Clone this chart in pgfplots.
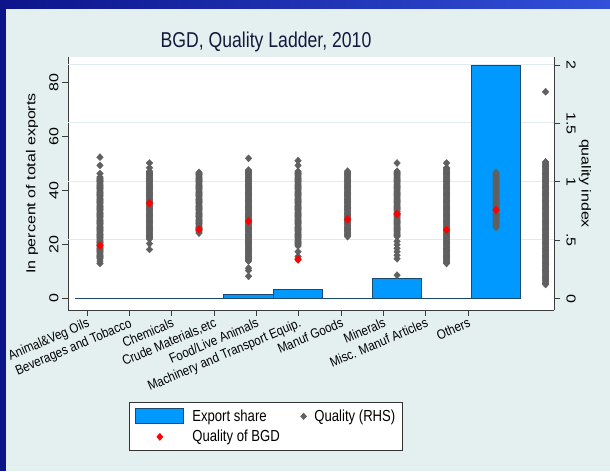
\documentclass[border=0pt]{standalone}
\usepackage{fontspec}
\setmainfont{Liberation Sans}
\newfontfamily\hfont[FakeStretch=0.82]{Liberation Sans}
\newfontfamily\vfont[FakeStretch=1.23]{Liberation Sans}
\newfontfamily\xfont[FakeStretch=0.86]{Liberation Sans}
\usepackage{graphicx}
\usepackage{pgfplots}
\pgfplotsset{compat=1.18}
\definecolor{panel}{RGB}{228,240,240}
\definecolor{navyL}{RGB}{12,20,138}
\definecolor{navyR}{RGB}{50,80,218}
\definecolor{barfill}{RGB}{0,153,255}
\definecolor{baredge}{RGB}{28,72,110}
\definecolor{qgray}{RGB}{96,96,96}
\definecolor{gridc}{RGB}{222,236,240}
\definecolor{axc}{RGB}{60,60,60}
\definecolor{titlec}{RGB}{20,25,60}
\pgfplotsset{qstyle/.style={only marks, mark=diamond*, qgray, mark size=3.5pt, mark options={xscale=1.25, draw=qgray, fill=qgray}}}
\newcommand{\up}[1]{\rotatebox{90}{#1}}
\newcommand{\dn}[1]{\rotatebox{-90}{#1}}
\begin{document}
\begin{tikzpicture}[x=1pt,y=1pt]
\useasboundingbox (0,0) rectangle (610,471);
\fill[panel] (0,0) rectangle (610,471);
\shade[left color=navyL,right color=navyR] (0,462) rectangle (610,471);
\fill[navyL] (0,0) rectangle (5.5,471);
\node[font=\hfont\fontsize{21.5}{22}\selectfont, text=titlec, anchor=base] at (266,423) {BGD, Quality Ladder, 2010};

% left axis: export shares
\begin{axis}[
  at={(68pt,161pt)}, anchor=south west, scale only axis,
  width=486pt, height=253pt,
  xmin=-0.646, xmax=9.17, ymin=-4.28, ymax=89.6,
  axis x line*=bottom, axis y line*=left,
  axis line style={-, axc, line width=0.9pt},
  axis background/.style={fill=white},
  tick align=outside, major tick length=6pt,
  tick style={axc, line width=0.8pt},
  xtick={-0.263,0.592,1.447,2.303,3.158,4.013,4.868,5.724,6.579,7.434},
  xticklabels={Animal\&Veg Oils, Beverages and Tobacco, Chemicals, {Crude Materials,etc}, Food/Live Animals, Machinery and Transport Equip., Manuf Goods, Minerals, Misc. Manuf Articles, Others},
  xticklabel style={rotate=23, anchor=north east, inner sep=1pt, font=\xfont\fontsize{13.5}{14}\selectfont},
  ytick={0,20,40,60,80},
  yticklabels={\up{0},\up{20},\up{40},\up{60},\up{80}},
  yticklabel style={font=\vfont\fontsize{13}{13}\selectfont},
  extra y ticks={21.72,43.44,65.16,86.88},
  extra y tick labels={},
  extra y tick style={grid=major, major tick length=0pt},
  grid style={gridc, line width=1pt},
  ylabel={In percent of total exports},
  ylabel style={at={(axis description cs:-0.0741,0.5)}, anchor=center, rotate=0, font=\vfont\fontsize{13}{13}\selectfont},
]
\addplot[ybar, bar width=1, bar shift=0pt, fill=barfill, draw=baredge, line width=0.9pt]
  coordinates {(0,0) (1,0) (2,0) (3,1.6) (4,3.4) (5,0) (6,7.5) (7,0) (8,86.4)};
\end{axis}

% right axis: quality
\begin{axis}[
  at={(68pt,161pt)}, anchor=south west, scale only axis,
  width=486pt, height=253pt,
  xmin=-0.646, xmax=9.17, ymin=-0.0985, ymax=2.068,
  hide x axis, axis y line*=right,
  axis line style={-, axc, line width=0.9pt},
  tick align=outside, major tick length=6pt,
  tick style={axc, line width=0.8pt},
  ytick={0,0.5,1,1.5,2}, yticklabels={\dn{0},\dn{.5},\dn{1},\dn{1.5},\dn{2}},
  yticklabel style={xshift=3pt, font=\vfont\fontsize{13}{13}\selectfont},
  ylabel={quality index},
  ylabel style={at={(axis description cs:1.0638,0.5)}, anchor=center, rotate=180, font=\vfont\fontsize{13}{13}\selectfont},
  legend columns=2,
  legend cell align=left,
  legend style={at={(0.1255,-0.3636)}, anchor=north west, draw=black!80, fill=white,
    line width=0.8pt, font=\hfont\fontsize{16}{16}\selectfont,
    nodes={inner sep=1pt},
    inner xsep=6pt, inner ysep=6pt, row sep=5pt,
    /tikz/every odd column/.append style={column sep=7pt},
    /tikz/every even column/.append style={column sep=20pt}},
]
\addlegendimage{legend image code/.code={\draw[fill=barfill, draw=baredge, line width=0.9pt] (0pt,-7.5pt) rectangle (48pt,7.5pt);}}
\addlegendentry{Export share}
\addplot[qstyle,
  legend image code/.code={\draw[only marks, mark size=3pt] plot coordinates {(3.3pt,0pt)};}]
coordinates {
(0,1.21)(0,1.14)(0,1.07)
(0,1.04)(0,1.02)(0,1.00)(0,0.98)(0,0.96)(0,0.94)(0,0.92)(0,0.90)(0,0.88)(0,0.86)(0,0.84)(0,0.82)(0,0.80)(0,0.78)(0,0.76)(0,0.74)(0,0.72)(0,0.70)(0,0.68)(0,0.66)(0,0.64)(0,0.62)(0,0.60)(0,0.58)(0,0.56)(0,0.54)(0,0.52)(0,0.50)(0,0.48)(0,0.46)(0,0.44)(0,0.42)(0,0.40)(0,0.38)(0,0.36)(0,0.34)(0,0.30)
(1,1.16)(1,1.12)
(1,1.09)(1,1.07)(1,1.05)(1,1.03)(1,1.01)(1,0.99)(1,0.97)(1,0.95)(1,0.93)(1,0.91)(1,0.89)(1,0.87)(1,0.85)(1,0.83)(1,0.81)(1,0.79)(1,0.77)(1,0.75)(1,0.73)(1,0.71)(1,0.69)(1,0.67)(1,0.65)(1,0.63)(1,0.61)(1,0.59)(1,0.57)(1,0.55)(1,0.53)(1,0.51)(1,0.47)(1,0.42)
(2,1.08)(2,1.06)(2,1.04)(2,1.02)(2,1.00)(2,0.98)(2,0.96)(2,0.94)(2,0.92)(2,0.90)(2,0.88)(2,0.86)(2,0.84)(2,0.82)(2,0.80)(2,0.78)(2,0.76)(2,0.74)(2,0.72)(2,0.70)(2,0.68)(2,0.66)(2,0.64)(2,0.62)(2,0.60)(2,0.58)(2,0.56)
(3,1.20)
(3,1.10)(3,1.08)(3,1.06)(3,1.04)(3,1.02)(3,1.00)(3,0.98)(3,0.96)(3,0.94)(3,0.92)(3,0.90)(3,0.88)(3,0.86)(3,0.84)(3,0.82)(3,0.80)(3,0.78)(3,0.76)(3,0.74)(3,0.72)(3,0.70)(3,0.68)(3,0.66)(3,0.64)(3,0.62)(3,0.60)(3,0.58)(3,0.56)(3,0.54)(3,0.52)(3,0.50)(3,0.48)(3,0.46)(3,0.44)(3,0.42)(3,0.40)(3,0.38)(3,0.36)(3,0.34)(3,0.32)(3,0.26)(3,0.24)(3,0.19)
(4,1.18)(4,1.14)
(4,1.09)(4,1.07)(4,1.05)(4,1.03)(4,1.01)(4,0.99)(4,0.97)(4,0.95)(4,0.93)(4,0.91)(4,0.89)(4,0.87)(4,0.85)(4,0.83)(4,0.81)(4,0.79)(4,0.77)(4,0.75)(4,0.73)(4,0.71)(4,0.69)(4,0.67)(4,0.65)(4,0.63)(4,0.61)(4,0.59)(4,0.57)(4,0.55)(4,0.53)(4,0.51)(4,0.49)(4,0.47)(4,0.45)(4,0.40)(4,0.36)(4,0.33)
(5,1.09)(5,1.07)(5,1.05)(5,1.03)(5,1.01)(5,0.99)(5,0.97)(5,0.95)(5,0.93)(5,0.91)(5,0.89)(5,0.87)(5,0.85)(5,0.83)(5,0.81)(5,0.79)(5,0.77)(5,0.75)(5,0.73)(5,0.71)(5,0.69)(5,0.67)(5,0.65)(5,0.63)(5,0.61)(5,0.59)(5,0.57)(5,0.55)(5,0.53)
(6,1.16)
(6,1.09)(6,1.07)(6,1.05)(6,1.03)(6,1.01)(6,0.99)(6,0.97)(6,0.95)(6,0.93)(6,0.91)(6,0.89)(6,0.87)(6,0.85)(6,0.83)(6,0.81)(6,0.79)(6,0.77)(6,0.75)(6,0.73)(6,0.71)(6,0.69)(6,0.67)(6,0.65)(6,0.63)(6,0.61)(6,0.59)(6,0.57)(6,0.55)(6,0.53)(6,0.49)(6,0.46)(6,0.43)(6,0.40)(6,0.37)(6,0.34)(6,0.20)
(7,1.16)
(7,1.12)(7,1.10)(7,1.08)(7,1.06)(7,1.04)(7,1.02)(7,1.00)(7,0.98)(7,0.96)(7,0.94)(7,0.92)(7,0.90)(7,0.88)(7,0.86)(7,0.84)(7,0.82)(7,0.80)(7,0.78)(7,0.76)(7,0.74)(7,0.72)(7,0.70)(7,0.68)(7,0.66)(7,0.64)(7,0.62)(7,0.60)(7,0.58)(7,0.56)(7,0.54)(7,0.52)(7,0.50)(7,0.48)(7,0.46)(7,0.44)(7,0.42)(7,0.40)(7,0.38)(7,0.36)(7,0.34)(7,0.32)(7,0.30)
(8,1.08)(8,1.06)(8,1.04)(8,1.02)(8,1.00)(8,0.98)(8,0.96)(8,0.94)(8,0.92)(8,0.90)(8,0.88)(8,0.86)(8,0.84)(8,0.82)(8,0.80)(8,0.78)(8,0.76)(8,0.74)(8,0.72)(8,0.70)(8,0.68)(8,0.66)(8,0.64)(8,0.62)(8,0.61)
(9,1.77)
(9,1.17)(9,1.15)(9,1.13)(9,1.11)(9,1.09)(9,1.07)(9,1.05)(9,1.03)(9,1.01)(9,0.99)(9,0.97)(9,0.95)(9,0.93)(9,0.91)(9,0.89)(9,0.87)(9,0.85)(9,0.83)(9,0.81)(9,0.79)(9,0.77)(9,0.75)(9,0.73)(9,0.71)(9,0.69)(9,0.67)(9,0.65)(9,0.63)(9,0.61)(9,0.59)(9,0.57)(9,0.55)(9,0.53)(9,0.51)(9,0.49)(9,0.47)(9,0.45)(9,0.43)(9,0.41)(9,0.39)(9,0.37)(9,0.35)(9,0.33)(9,0.31)(9,0.29)(9,0.27)(9,0.25)(9,0.23)(9,0.21)(9,0.19)(9,0.17)(9,0.15)(9,0.13)(9,0.12)
};
\addlegendentry{Quality (RHS)}
% further exporters of the same products (dense part of each column)
\addplot[qstyle, forget plot]
coordinates {
(0,1.03)(0,1.01)(0,0.99)(0,0.97)(0,0.95)(0,0.93)(0,0.91)(0,0.89)(0,0.87)(0,0.85)(0,0.83)(0,0.81)(0,0.79)(0,0.77)(0,0.75)(0,0.73)(0,0.71)(0,0.69)(0,0.67)(0,0.65)(0,0.63)(0,0.61)(0,0.59)(0,0.57)(0,0.55)(0,0.53)(0,0.51)(0,0.49)(0,0.47)(0,0.45)(0,0.43)(0,0.41)(0,0.39)(0,0.37)(0,0.35)(0,0.32)
(1,1.08)(1,1.06)(1,1.04)(1,1.02)(1,1.00)(1,0.98)(1,0.96)(1,0.94)(1,0.92)(1,0.90)(1,0.88)(1,0.86)(1,0.84)(1,0.82)(1,0.80)(1,0.78)(1,0.76)(1,0.74)(1,0.72)(1,0.70)(1,0.68)(1,0.66)(1,0.64)(1,0.62)(1,0.60)(1,0.58)(1,0.56)(1,0.54)(1,0.52)
(2,1.07)(2,1.05)(2,1.03)(2,1.01)(2,0.99)(2,0.97)(2,0.95)(2,0.93)(2,0.91)(2,0.89)(2,0.87)(2,0.85)(2,0.83)(2,0.81)(2,0.79)(2,0.77)(2,0.75)(2,0.73)(2,0.71)(2,0.69)(2,0.67)(2,0.65)(2,0.63)(2,0.61)(2,0.59)(2,0.57)
(3,1.09)(3,1.07)(3,1.05)(3,1.03)(3,1.01)(3,0.99)(3,0.97)(3,0.95)(3,0.93)(3,0.91)(3,0.89)(3,0.87)(3,0.85)(3,0.83)(3,0.81)(3,0.79)(3,0.77)(3,0.75)(3,0.73)(3,0.71)(3,0.69)(3,0.67)(3,0.65)(3,0.63)(3,0.61)(3,0.59)(3,0.57)(3,0.55)(3,0.53)(3,0.51)(3,0.49)(3,0.47)(3,0.45)(3,0.43)(3,0.41)(3,0.39)(3,0.37)(3,0.35)(3,0.33)
(4,1.08)(4,1.06)(4,1.04)(4,1.02)(4,1.00)(4,0.98)(4,0.96)(4,0.94)(4,0.92)(4,0.90)(4,0.88)(4,0.86)(4,0.84)(4,0.82)(4,0.80)(4,0.78)(4,0.76)(4,0.74)(4,0.72)(4,0.70)(4,0.68)(4,0.66)(4,0.64)(4,0.62)(4,0.60)(4,0.58)(4,0.56)(4,0.54)(4,0.52)(4,0.50)(4,0.48)(4,0.46)
(5,1.08)(5,1.06)(5,1.04)(5,1.02)(5,1.00)(5,0.98)(5,0.96)(5,0.94)(5,0.92)(5,0.90)(5,0.88)(5,0.86)(5,0.84)(5,0.82)(5,0.80)(5,0.78)(5,0.76)(5,0.74)(5,0.72)(5,0.70)(5,0.68)(5,0.66)(5,0.64)(5,0.62)(5,0.60)(5,0.58)(5,0.56)(5,0.54)
(6,1.08)(6,1.06)(6,1.04)(6,1.02)(6,1.00)(6,0.98)(6,0.96)(6,0.94)(6,0.92)(6,0.90)(6,0.88)(6,0.86)(6,0.84)(6,0.82)(6,0.80)(6,0.78)(6,0.76)(6,0.74)(6,0.72)(6,0.70)(6,0.68)(6,0.66)(6,0.64)(6,0.62)(6,0.60)(6,0.58)(6,0.56)(6,0.54)
(7,1.11)(7,1.09)(7,1.07)(7,1.05)(7,1.03)(7,1.01)(7,0.99)(7,0.97)(7,0.95)(7,0.93)(7,0.91)(7,0.89)(7,0.87)(7,0.85)(7,0.83)(7,0.81)(7,0.79)(7,0.77)(7,0.75)(7,0.73)(7,0.71)(7,0.69)(7,0.67)(7,0.65)(7,0.63)(7,0.61)(7,0.59)(7,0.57)(7,0.55)(7,0.53)(7,0.51)(7,0.49)(7,0.47)(7,0.45)(7,0.43)(7,0.41)(7,0.39)(7,0.37)(7,0.35)(7,0.33)(7,0.31)
(8,1.07)(8,1.05)(8,1.03)(8,1.01)(8,0.99)(8,0.97)(8,0.95)(8,0.93)(8,0.91)(8,0.89)(8,0.87)(8,0.85)(8,0.83)(8,0.81)(8,0.79)(8,0.77)(8,0.75)(8,0.73)(8,0.71)(8,0.69)(8,0.67)(8,0.65)(8,0.63)
(9,1.16)(9,1.14)(9,1.12)(9,1.10)(9,1.08)(9,1.06)(9,1.04)(9,1.02)(9,1.00)(9,0.98)(9,0.96)(9,0.94)(9,0.92)(9,0.90)(9,0.88)(9,0.86)(9,0.84)(9,0.82)(9,0.80)(9,0.78)(9,0.76)(9,0.74)(9,0.72)(9,0.70)(9,0.68)(9,0.66)(9,0.64)(9,0.62)(9,0.60)(9,0.58)(9,0.56)(9,0.54)(9,0.52)(9,0.50)(9,0.48)(9,0.46)(9,0.44)(9,0.42)(9,0.40)(9,0.38)(9,0.36)(9,0.34)(9,0.32)(9,0.30)(9,0.28)(9,0.26)(9,0.24)(9,0.22)(9,0.20)(9,0.18)(9,0.16)(9,0.14)
};
\addplot[only marks, mark=diamond*, red, mark size=3.9pt, mark options={xscale=1.15, draw=red, fill=red},
  legend image code/.code={\path[draw=none,fill=none] (0pt,0pt) -- (48pt,0pt); \draw[only marks, mark size=3.3pt] plot coordinates {(24pt,0pt)};}]
coordinates {(0,0.452) (1,0.815) (2,0.593) (3,0.664) (4,0.338) (5,0.678) (6,0.724) (7,0.587) (8,0.758)};
\addlegendentry{Quality of BGD}
\end{axis}
\end{tikzpicture}
\end{document}
